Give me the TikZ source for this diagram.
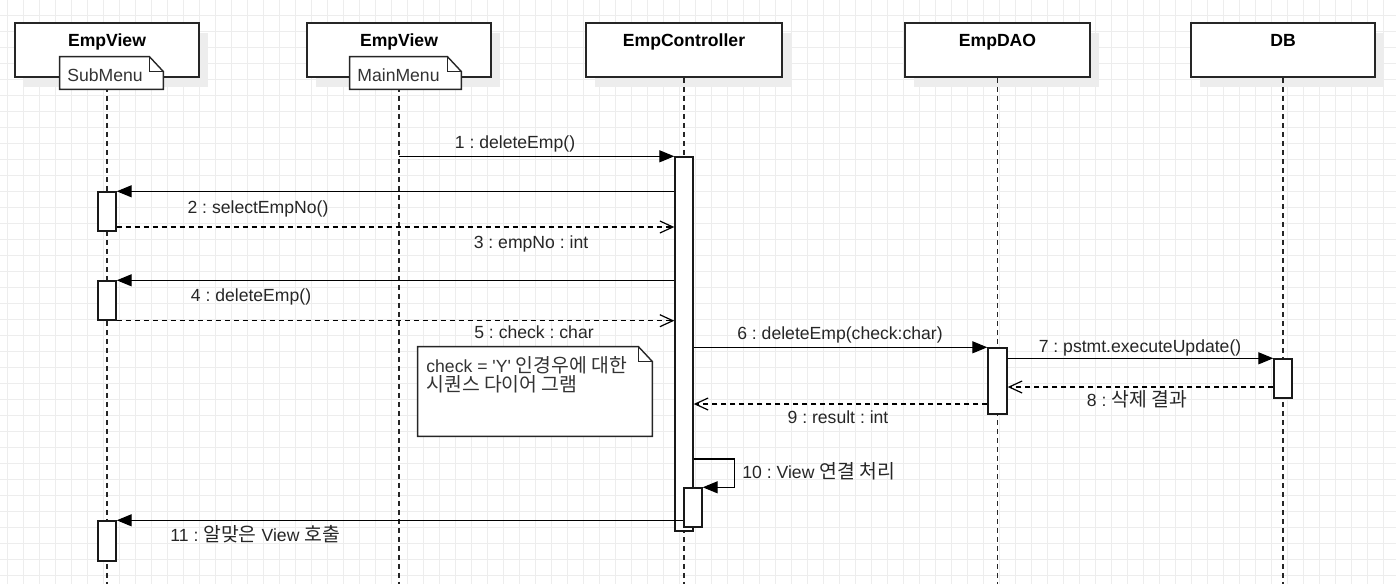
\documentclass[tikz,border=0pt]{standalone}
\usepackage{fontspec}
\setmainfont{Liberation Sans}[Ligatures=TeXOff]
\newfontfamily\kr{Noto Sans CJK KR}[Scale=1.1]
\usetikzlibrary{arrows.meta,fit,shadows}
\frenchspacing

\tikzset{
  gridline/.style={draw=black!7, line width=0.5pt},
  headbox/.style={draw=black!85, line width=0.75pt, fill=white, inner sep=0pt,
    drop shadow={shadow xshift=4.5pt, shadow yshift=-5pt, fill=black!7, opacity=1}},
  headtitle/.style={font=\fontsize{8.8}{10}\selectfont\bfseries, anchor=base, inner sep=0pt},
  lifeline/.style={draw=black!85, line width=0.6pt, dash pattern=on 2.5pt off 2pt},
  notebox/.style={draw=black!85, line width=0.7pt, fill=white},
  notetext/.style={font=\fontsize{8.8}{8}\selectfont, text=black!80, anchor=base west,
    inner sep=0pt, align=left},
  actbar/.style={draw=black!90, line width=0.7pt, fill=white, inner sep=0pt},
  syncmsg/.style={draw=black, line width=0.65pt, -{Triangle[length=7.5pt,width=6pt]}},
  retmsg/.style={draw=black, line width=0.6pt, dash pattern=on 2.5pt off 2pt,
    -{Straight Barb[length=6.5pt,width=6pt]}},
  msglabel/.style={font=\fontsize{8.8}{10}\selectfont, text=black!85, inner sep=0pt, anchor=base},
}

\begin{document}
\begin{tikzpicture}[x=0.5pt,y=-0.5pt]
  \useasboundingbox (0,0) rectangle (1396,584);
  % background grid
  \foreach \gx in {7.5,23.5,...,1396}
    \draw[gridline] (\gx,0) -- (\gx,584);
  \foreach \gy in {15,31,...,584}
    \draw[gridline] (0,\gy) -- (1396,\gy);
  \coordinate (bottom) at (0,584);

  % lifeline heads
  \node[headbox, fit={(15,23) (199,77)}] (hA) {};
  \node[headbox, fit={(307,23) (491,77)}] (hB) {};
  \node[headbox, fit={(586,23) (782,77)}] (hC) {};
  \node[headbox, fit={(905,23) (1090,77)}] (hD) {};
  \node[headbox, fit={(1191,23) (1375,77)}] (hE) {};
  \node[headtitle] (tA) at ([yshift=-12.25pt]hA.north) {EmpView};
  \node[headtitle] (tB) at ([yshift=-12.25pt]hB.north) {EmpView};
  \node[headtitle] (tC) at ([yshift=-12.25pt]hC.north) {EmpController};
  \node[headtitle] (tD) at ([yshift=-12.25pt]hD.north) {EmpDAO};
  \node[headtitle] (tE) at ([yshift=-12.25pt]hE.north) {DB};

  \foreach \h in {hA,hB,hC,hD,hE}
    \draw[lifeline] (\h.south) -- (\h.south |- bottom);

  % notes
  \node[fit={(60,57) (163,89)}, inner sep=0pt] (nSub) {};
  \node[fit={(350,57) (461,89)}, inner sep=0pt] (nMain) {};
  \node[fit={(418,347) (652,436)}, inner sep=0pt] (nCheck) {};
  \foreach \n in {nSub,nMain,nCheck} {
    \draw[notebox] (\n.south west) -- (\n.north west) -- ([xshift=-7pt]\n.north east)
      -- ([yshift=-7.5pt]\n.north east) -- (\n.south east) -- cycle;
    \draw[notebox, fill=none] ([xshift=-7pt]\n.north east) |- ([yshift=-7.5pt]\n.north east);
  }
  \node[notetext] (sSub) at (67,81) {SubMenu};
  \node[notetext] (sMain) at (357,81) {MainMenu};
  \node[notetext] (sCheck1) at (426,372) {check = 'Y' {\kr 인경우에 대한}};
  \node[notetext] (sCheck2) at (426,391) {{\kr 시퀀스 다이어 그램}};

  % activation bars
  \node[actbar, fit={(98,192) (116,231)}] (actA1) {};
  \node[actbar, fit={(98,281) (116,320)}] (actA2) {};
  \node[actbar, fit={(98,521) (116,561)}] (actA3) {};
  \node[actbar, fit={(675,157) (693,531)}] (actC) {};
  \node[actbar, fit={(684,488) (702,527)}] (actC2) {};
  \node[actbar, fit={(988,348) (1007,414)}] (actD) {};
  \node[actbar, fit={(1274,359) (1292,398)}] (actE) {};

  % messages
  \coordinate (m3) at (0,227);
  \coordinate (m8) at (0,387);
  \coordinate (m9) at (0,404);
  \coordinate (m10) at (0,459);
  \draw[syncmsg] (hB |- actC.north) -- (actC.north west);
  \draw[syncmsg] (actC.west |- actA1.north) -- (actA1.north east);
  \draw[retmsg] (actA1.east |- m3) -- (actC.west |- m3);
  \draw[syncmsg] (actC.west |- actA2.north) -- (actA2.north east);
  \draw[retmsg] (actA2.south east) -- (actC.west |- actA2.south);
  \draw[syncmsg] (actC.east |- actD.north) -- (actD.north west);
  \draw[syncmsg] (actD.east |- actE.north) -- (actE.north west);
  \draw[retmsg] (actE.west |- m8) -- (actD.east |- m8);
  \draw[retmsg] (actD.west |- m9) -- (actC.east |- m9);
  \draw[syncmsg] (actC.east |- m10) -- ++(41,0) |- (actC2.north east);
  \draw[syncmsg] (actC2.west |- actA3.north) -- (actA3.north east);

  % message labels
  \node[msglabel] (l1) at (515,148) {1 : deleteEmp()};
  \node[msglabel] (l2) at (258,213) {2 : selectEmpNo()};
  \node[msglabel] (l3) at (531,248) {3 : empNo : int};
  \node[msglabel] (l4) at (251,301) {4 : deleteEmp()};
  \node[msglabel] (l5) at (534,338) {5 : check : char};
  \node[msglabel] (l6) at (840,339) {6 : deleteEmp(check:char)};
  \node[msglabel] (l7) at (1140,352) {7 : pstmt.executeUpdate()};
  \node[msglabel] (l8) at (1137,406) {8 : {\kr 삭제 결과}};
  \node[msglabel] (l9) at (838,423) {9 : result : int};
  \node[msglabel, anchor=base west] (l10) at (742,478) {10 : View {\kr 연결 처리}};
  \node[msglabel, anchor=base west] (l11) at (170,541) {11 : {\kr 알맞은} View {\kr 호출}};
\end{tikzpicture}
\end{document}
